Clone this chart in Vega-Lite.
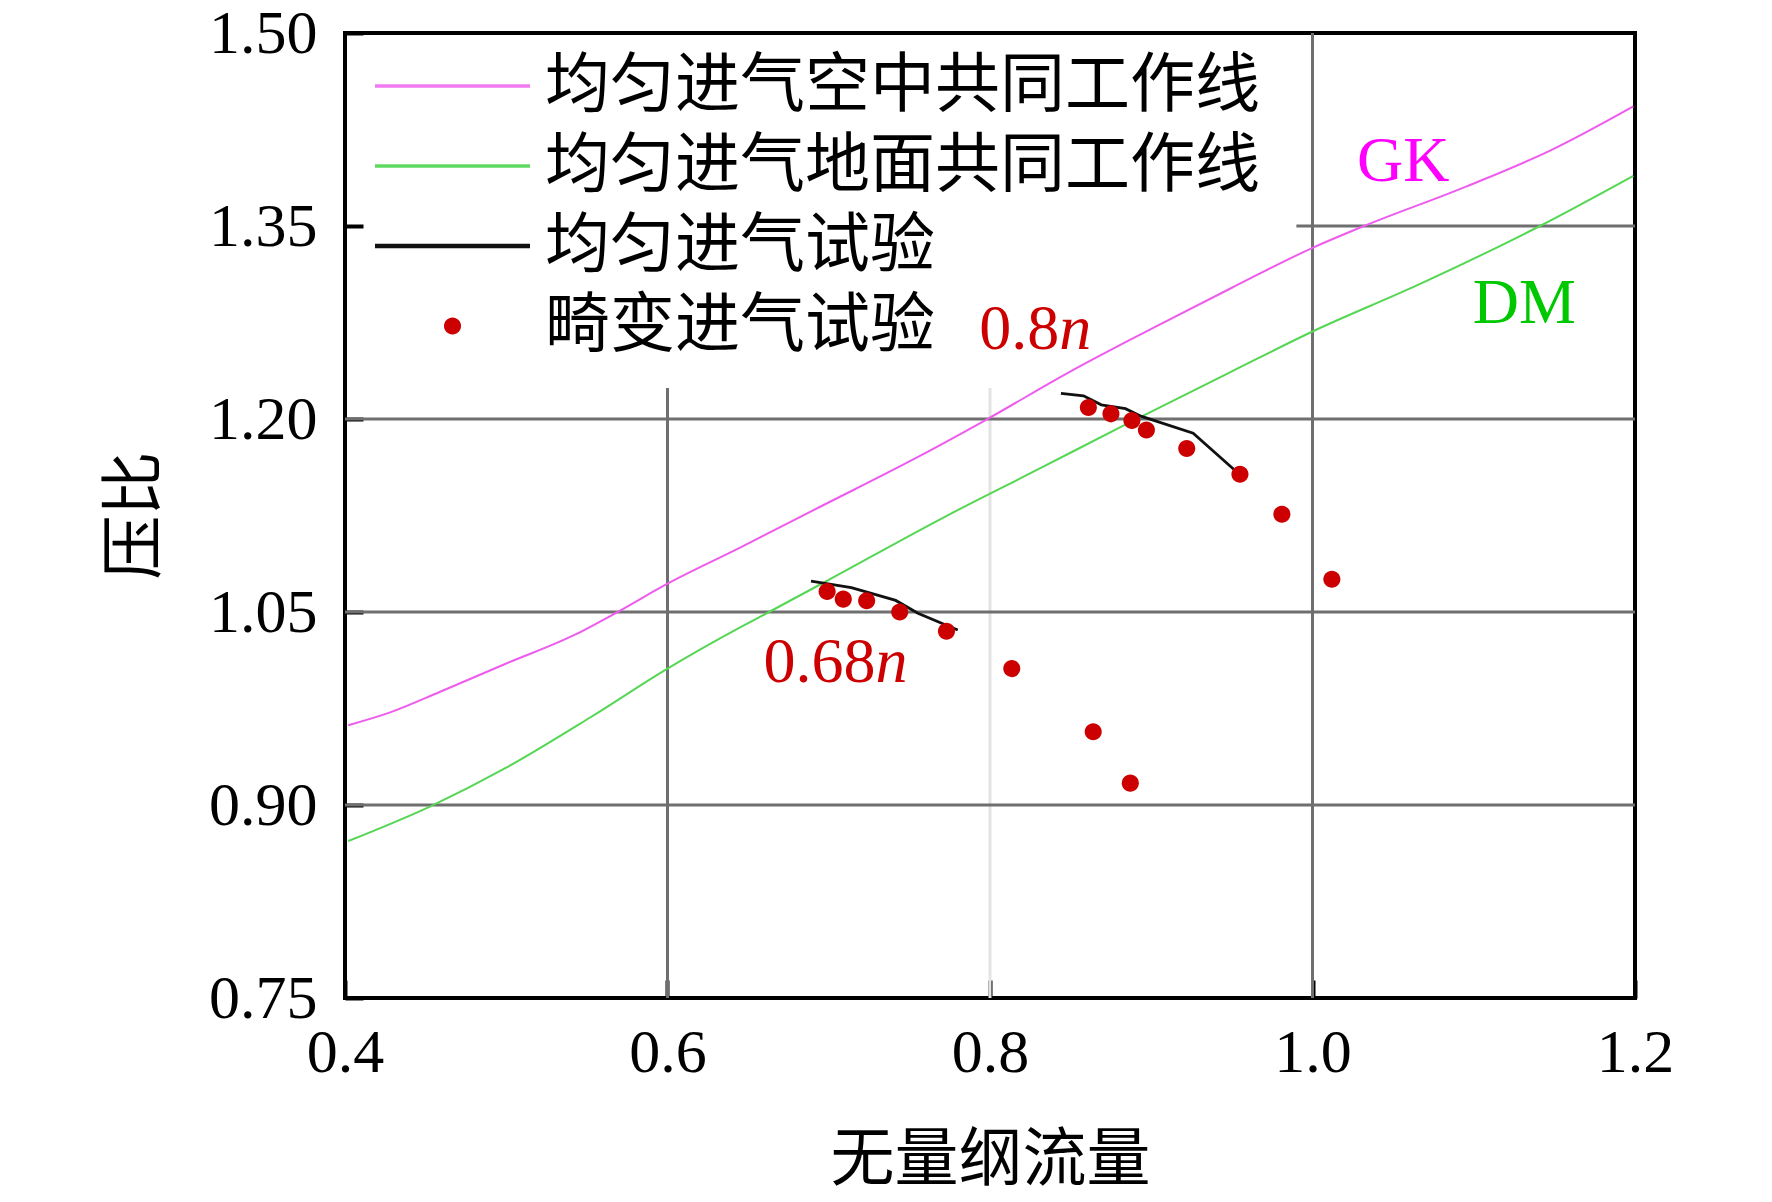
{
  "$schema": "https://vega.github.io/schema/vega-lite/v6.json",
  "width": 1290,
  "height": 965,
  "autosize": {"type": "none"},
  "padding": {"left": 345, "top": 33, "right": 137, "bottom": 204},
  "background": "white",
  "config": {
    "view": {"stroke": "#000", "strokeWidth": 4},
    "axis": {
      "domain": false, "grid": false,
      "labelFont": "Liberation Serif", "labelFontSize": 62, "labelColor": "#000",
      "titleFont": "Noto Sans CJK SC", "titleFontSize": 64, "titleFontWeight": "normal", "titleColor": "#000",
      "ticks": true, "tickSize": -18, "tickWidth": 4, "tickColor": "#000",
      "labelFlush": false, "labelOverlap": false
    },
    "legend": {
      "labelFont": "Noto Sans CJK SC", "labelFontSize": 65, "labelColor": "#000", "labelLimit": 1500,
      "symbolSize": 24025, "labelOffset": 15, "rowPadding": 0, "clipHeight": 80, "padding": 0, "symbolStrokeWidth": 0
    }
  },
  "datasets": {
    "gridV": [
      {"x": 0.6, "y": 0.75, "y2": 1.224},
      {"x": 1.0, "y": 0.75, "y2": 1.5}
    ],
    "gridVLight": [
      {"x": 0.8, "y": 0.75, "y2": 1.224}
    ],
    "gridH": [
      {"y": 0.9, "x": 0.4, "x2": 1.2},
      {"y": 1.05, "x": 0.4, "x2": 1.2},
      {"y": 1.2, "x": 0.4, "x2": 1.2},
      {"y": 1.35, "x": 0.99, "x2": 1.2}
    ],
    "curves": [
      {"series": "均匀进气空中共同工作线", "x": 0.402, "y": 0.962},
      {"series": "均匀进气空中共同工作线", "x": 0.428, "y": 0.972},
      {"series": "均匀进气空中共同工作线", "x": 0.459, "y": 0.988},
      {"series": "均匀进气空中共同工作线", "x": 0.5, "y": 1.01},
      {"series": "均匀进气空中共同工作线", "x": 0.542, "y": 1.032},
      {"series": "均匀进气空中共同工作线", "x": 0.569, "y": 1.05},
      {"series": "均匀进气空中共同工作线", "x": 0.6, "y": 1.072},
      {"series": "均匀进气空中共同工作线", "x": 0.645, "y": 1.1},
      {"series": "均匀进气空中共同工作线", "x": 0.695, "y": 1.132},
      {"series": "均匀进气空中共同工作线", "x": 0.75, "y": 1.167},
      {"series": "均匀进气空中共同工作线", "x": 0.797, "y": 1.199},
      {"series": "均匀进气空中共同工作线", "x": 0.85, "y": 1.237},
      {"series": "均匀进气空中共同工作线", "x": 0.9, "y": 1.27},
      {"series": "均匀进气空中共同工作线", "x": 0.95, "y": 1.302},
      {"series": "均匀进气空中共同工作线", "x": 1.0, "y": 1.333},
      {"series": "均匀进气空中共同工作线", "x": 1.032, "y": 1.35},
      {"series": "均匀进气空中共同工作线", "x": 1.096, "y": 1.381},
      {"series": "均匀进气空中共同工作线", "x": 1.148, "y": 1.409},
      {"series": "均匀进气空中共同工作线", "x": 1.199, "y": 1.443},
      {"series": "均匀进气地面共同工作线", "x": 0.402, "y": 0.872},
      {"series": "均匀进气地面共同工作线", "x": 0.453, "y": 0.899},
      {"series": "均匀进气地面共同工作线", "x": 0.5, "y": 0.929},
      {"series": "均匀进气地面共同工作线", "x": 0.552, "y": 0.968},
      {"series": "均匀进气地面共同工作线", "x": 0.6, "y": 1.006},
      {"series": "均匀进气地面共同工作线", "x": 0.645, "y": 1.038},
      {"series": "均匀进气地面共同工作线", "x": 0.663, "y": 1.05},
      {"series": "均匀进气地面共同工作线", "x": 0.7, "y": 1.075},
      {"series": "均匀进气地面共同工作线", "x": 0.772, "y": 1.124},
      {"series": "均匀进气地面共同工作线", "x": 0.83, "y": 1.161},
      {"series": "均匀进气地面共同工作线", "x": 0.883, "y": 1.195},
      {"series": "均匀进气地面共同工作线", "x": 0.95, "y": 1.237},
      {"series": "均匀进气地面共同工作线", "x": 1.0, "y": 1.268},
      {"series": "均匀进气地面共同工作线", "x": 1.065, "y": 1.304},
      {"series": "均匀进气地面共同工作线", "x": 1.141, "y": 1.35},
      {"series": "均匀进气地面共同工作线", "x": 1.199, "y": 1.389}
    ],
    "tests": [
      {"run": "0.68n", "x": 0.689, "y": 1.074},
      {"run": "0.68n", "x": 0.714, "y": 1.069},
      {"run": "0.68n", "x": 0.7415, "y": 1.059},
      {"run": "0.68n", "x": 0.7553, "y": 1.049},
      {"run": "0.68n", "x": 0.78, "y": 1.036},
      {"run": "0.8n", "x": 0.844, "y": 1.22},
      {"run": "0.8n", "x": 0.858, "y": 1.218},
      {"run": "0.8n", "x": 0.869, "y": 1.211},
      {"run": "0.8n", "x": 0.884, "y": 1.208},
      {"run": "0.8n", "x": 0.894, "y": 1.202},
      {"run": "0.8n", "x": 0.926, "y": 1.189},
      {"run": "0.8n", "x": 0.952, "y": 1.16}
    ],
    "distorted": [
      {"series": "畸变进气试验", "x": 0.699, "y": 1.066},
      {"series": "畸变进气试验", "x": 0.709, "y": 1.06},
      {"series": "畸变进气试验", "x": 0.7235, "y": 1.0587},
      {"series": "畸变进气试验", "x": 0.744, "y": 1.05},
      {"series": "畸变进气试验", "x": 0.773, "y": 1.035},
      {"series": "畸变进气试验", "x": 0.8135, "y": 1.006},
      {"series": "畸变进气试验", "x": 0.864, "y": 0.957},
      {"series": "畸变进气试验", "x": 0.887, "y": 0.917},
      {"series": "畸变进气试验", "x": 0.861, "y": 1.209},
      {"series": "畸变进气试验", "x": 0.875, "y": 1.204},
      {"series": "畸变进气试验", "x": 0.888, "y": 1.1988},
      {"series": "畸变进气试验", "x": 0.897, "y": 1.1915},
      {"series": "畸变进气试验", "x": 0.922, "y": 1.177},
      {"series": "畸变进气试验", "x": 0.955, "y": 1.157},
      {"series": "畸变进气试验", "x": 0.981, "y": 1.126},
      {"series": "畸变进气试验", "x": 1.012, "y": 1.0755}
    ],
    "notes": [
      {"label": "GK", "x": 1.0563, "y": 1.3994},
      {"label": "DM", "x": 1.1314, "y": 1.2894},
      {"label": "0.8", "x": 0.843, "y": 1.2688},
      {"label": "0.68", "x": 0.729, "y": 1.0103}
    ],
    "italicN": [
      {"label": "n", "x": 0.843, "y": 1.2688},
      {"label": "n", "x": 0.729, "y": 1.0103}
    ]
  },
  "encoding": {
    "x": {
      "field": "x", "type": "quantitative",
      "scale": {"domain": [0.4, 1.2], "nice": false, "zero": false},
      "axis": {"values": [0.4, 0.6, 0.8, 1.0, 1.2], "format": ".1f", "labelPadding": 42, "title": "无量纲流量", "titleY": 162, "titleBaseline": "middle"}
    },
    "y": {
      "field": "y", "type": "quantitative",
      "scale": {"domain": [0.75, 1.5], "nice": false, "zero": false},
      "axis": {"values": [0.75, 0.9, 1.05, 1.2, 1.35, 1.5], "format": ".2f", "labelPadding": 46, "title": "压比", "titleX": -210, "titleY": 482, "titleBaseline": "middle", "titleAlign": "center", "titleAngle": 270}
    }
  },
  "layer": [
    {
      "data": {"name": "gridV"},
      "mark": {"type": "rule", "color": "#6f6f6f", "strokeWidth": 3},
      "encoding": {"y2": {"field": "y2"}}
    },
    {
      "data": {"name": "gridVLight"},
      "mark": {"type": "rule", "color": "#e4e4e4", "strokeWidth": 3},
      "encoding": {"y2": {"field": "y2"}}
    },
    {
      "data": {"name": "gridH"},
      "mark": {"type": "rule", "color": "#6f6f6f", "strokeWidth": 3},
      "encoding": {"x2": {"field": "x2"}}
    },
    {
      "data": {"name": "curves"},
      "mark": {"type": "line", "strokeWidth": 2, "interpolate": "monotone"},
      "encoding": {
        "color": {
          "field": "series", "type": "nominal",
          "scale": {"domain": ["均匀进气空中共同工作线", "均匀进气地面共同工作线"], "range": ["#ee5cee", "#55d655"]},
          "legend": null
        }
      }
    },
    {
      "data": {"name": "tests"},
      "mark": {"type": "line", "strokeWidth": 2.8, "color": "#111111"},
      "encoding": {"detail": {"field": "run", "type": "nominal"}}
    },
    {
      "data": {"name": "distorted"},
      "mark": {"type": "point", "filled": true, "opacity": 1, "size": 24025, "strokeWidth": 0},
      "encoding": {
        "fill": {
          "field": "series", "type": "nominal",
          "scale": {"domain": ["均匀进气空中共同工作线", "均匀进气地面共同工作线", "均匀进气试验", "畸变进气试验"], "range": ["#f27af2", "#5ed85e", "#111111", "#cc0000"]},
          "legend": {"orient": "none", "legendX": 30, "legendY": 13, "title": null, "direction": "vertical"}
        },
        "shape": {
          "field": "series", "type": "nominal",
          "scale": {"domain": ["均匀进气空中共同工作线", "均匀进气地面共同工作线", "均匀进气试验", "畸变进气试验"], "range": ["M-1,-0.022H1V0.022H-1Z", "M-1,-0.022H1V0.022H-1Z", "M-1,-0.029H1V0.029H-1Z", "M-0.11,0A0.11,0.11,0,1,1,0.11,0A0.11,0.11,0,1,1,-0.11,0Z"]},
          "legend": {"orient": "none", "legendX": 30, "legendY": 13, "title": null, "direction": "vertical"}
        }
      }
    },
    {
      "data": {"name": "notes"},
      "transform": [{"filter": "datum.label === 'GK'"}],
      "mark": {"type": "text", "font": "Liberation Serif", "fontSize": 64, "color": "#ff00ff", "align": "center", "baseline": "middle"},
      "encoding": {"text": {"field": "label"}}
    },
    {
      "data": {"name": "notes"},
      "transform": [{"filter": "datum.label === 'DM'"}],
      "mark": {"type": "text", "font": "Liberation Serif", "fontSize": 64, "color": "#00c800", "align": "center", "baseline": "middle"},
      "encoding": {"text": {"field": "label"}}
    },
    {
      "data": {"name": "notes"},
      "transform": [{"filter": "datum.label === '0.8' || datum.label === '0.68'"}],
      "mark": {"type": "text", "font": "Liberation Serif", "fontSize": 64, "color": "#cc0000", "align": "right", "baseline": "middle"},
      "encoding": {"text": {"field": "label"}}
    },
    {
      "data": {"name": "italicN"},
      "mark": {"type": "text", "font": "Liberation Serif", "fontSize": 64, "fontStyle": "italic", "color": "#cc0000", "align": "left", "baseline": "middle"},
      "encoding": {"text": {"field": "label"}}
    }
  ]
}
